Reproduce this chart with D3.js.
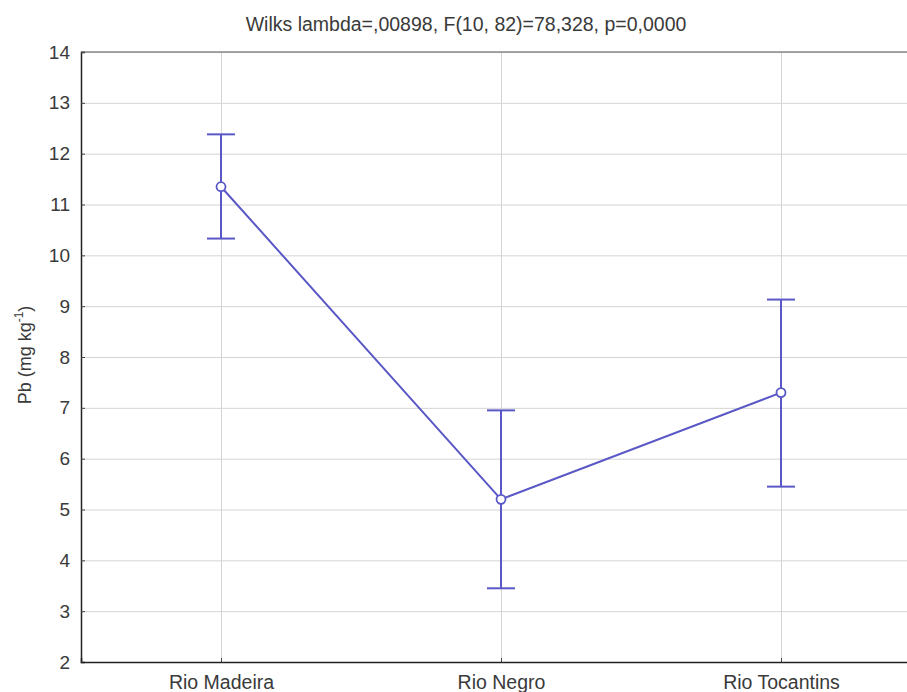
<!DOCTYPE html>
<html>
<head>
<meta charset="utf-8">
<script src="https://cdn.jsdelivr.net/npm/d3@7"></script>
<style>
  body { margin: 0; background: #fff; }
  svg text { font-family: "Liberation Sans", Arial, sans-serif; fill: #3a3a3a; }
  .grid line { stroke: #d4d4d4; }
  .grid path { display: none; }
</style>
</head>
<body>
<div id="chart"></div>
<script>
// data
var rivers = ["Rio Madeira", "Rio Negro", "Rio Tocantins"];
var means = [11.35, 5.2, 7.3];
var upper = [12.38, 6.95, 9.13];
var lower = [10.33, 3.45, 5.45];
var yTicks = [2, 3, 4, 5, 6, 7, 8, 9, 10, 11, 12, 13, 14];

var w = 907;
var h = 692;
// plot box (right edge runs past the window, like the reference)
var plotLeft = 81, plotRight = 921, plotTop = 52, plotBottom = 662;
var lineColor = "#5a58c6";

var dataset = rivers.map(function(r, i) {
    return { river: r, mean: means[i], hi: upper[i], lo: lower[i] };
});

var xScale = d3.scalePoint()
               .domain(rivers)
               .range([plotLeft, plotRight])
               .padding(0.5);
var yScale = d3.scaleLinear()
               .domain([2, 14])
               .range([plotBottom, plotTop]);

var svg = d3.select("#chart")
            .append("svg")
            .attr("width", w)
            .attr("height", h);

// gridlines
svg.append("g")
    .attr("class", "grid")
    .attr("transform", "translate(" + plotLeft + ",0)")
    .call(d3.axisLeft(yScale).tickValues(yTicks).tickSize(-(plotRight - plotLeft)).tickFormat(""));
svg.append("g")
    .attr("class", "grid")
    .attr("transform", "translate(0," + plotBottom + ")")
    .call(d3.axisBottom(xScale).tickSize(-(plotBottom - plotTop)).tickFormat(""));

// top border
svg.append("line")
    .attr("x1", plotLeft).attr("x2", w)
    .attr("y1", yScale(14)).attr("y2", yScale(14))
    .attr("stroke", "#888").attr("stroke-width", 1.5);

// axes
var yAxis = d3.axisLeft(yScale).tickValues(yTicks).tickSize(-4).tickPadding(11);
var gy = svg.append("g")
    .attr("transform", "translate(" + plotLeft + ",0)")
    .call(yAxis);
gy.select(".domain").attr("stroke", "#222").attr("stroke-width", 1.5);
gy.selectAll(".tick line").attr("stroke", "#444");
gy.selectAll("text").style("font-size", "19px");

var xAxis = d3.axisBottom(xScale).tickSize(-4).tickPadding(13);
var gx = svg.append("g")
    .attr("transform", "translate(0," + plotBottom + ")")
    .call(xAxis);
gx.select(".domain").attr("stroke", "#222").attr("stroke-width", 1.5);
gx.selectAll(".tick line").attr("stroke", "#444");
gx.selectAll("text").style("font-size", "19.5px");

// error bars
var cap = 14;
var bars = svg.selectAll(".err")
    .data(dataset)
    .enter()
    .append("g")
    .attr("class", "err")
    .attr("stroke", lineColor)
    .attr("stroke-width", 2);
bars.append("line")
    .attr("x1", function(d) { return xScale(d.river); })
    .attr("x2", function(d) { return xScale(d.river); })
    .attr("y1", function(d) { return yScale(d.hi); })
    .attr("y2", function(d) { return yScale(d.lo); });
bars.append("line")
    .attr("x1", function(d) { return xScale(d.river) - cap; })
    .attr("x2", function(d) { return xScale(d.river) + cap; })
    .attr("y1", function(d) { return yScale(d.hi); })
    .attr("y2", function(d) { return yScale(d.hi); });
bars.append("line")
    .attr("x1", function(d) { return xScale(d.river) - cap; })
    .attr("x2", function(d) { return xScale(d.river) + cap; })
    .attr("y1", function(d) { return yScale(d.lo); })
    .attr("y2", function(d) { return yScale(d.lo); });

// mean line
var line = d3.line()
    .x(function(d) { return xScale(d.river); })
    .y(function(d) { return yScale(d.mean); });
svg.append("path")
    .datum(dataset)
    .attr("fill", "none")
    .attr("stroke", lineColor)
    .attr("stroke-width", 2)
    .attr("d", line);

svg.selectAll(".dot")
    .data(dataset)
    .enter()
    .append("circle")
    .attr("class", "dot")
    .attr("cx", function(d) { return xScale(d.river); })
    .attr("cy", function(d) { return yScale(d.mean); })
    .attr("r", 4.5)
    .attr("fill", "#fff")
    .attr("stroke", lineColor)
    .attr("stroke-width", 1.8);

// title
svg.append("text")
    .attr("x", 466)
    .attr("y", 31)
    .attr("text-anchor", "middle")
    .style("font-size", "19.5px")
    .text("Wilks lambda=,00898, F(10, 82)=78,328, p=0,0000");

// y label
var yl = svg.append("text")
    .attr("transform", "translate(31," + 355 + ") rotate(-90)")
    .attr("text-anchor", "middle")
    .style("font-size", "18px");
yl.append("tspan").text("Pb (mg kg");
yl.append("tspan").attr("dy", -8).style("font-size", "12px").text("-1");
yl.append("tspan").attr("dy", 8).text(")");
</script>
</body>
</html>
